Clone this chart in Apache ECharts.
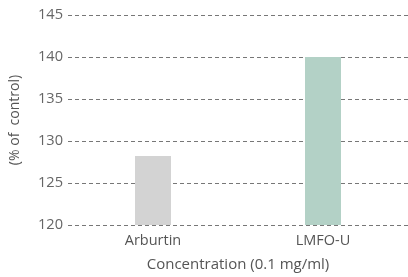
<!DOCTYPE html>
<html>
<head>
<meta charset="utf-8">
<script src="https://cdn.jsdelivr.net/npm/echarts@6/dist/echarts.min.js"></script>
<style>
  html, body { margin: 0; padding: 0; background: #fff; }
  #chart { width: 408px; height: 277px; }
</style>
</head>
<body>
<div id="chart"></div>
<script>
const categories = ['Arburtin', 'LMFO-U']
const values = [128.2, 140]
const barColors = ['#d3d3d3', '#b3d1c6']

const font = '"Open Sans", sans-serif'

echarts.init(document.getElementById('chart')).setOption({
  animation: false,
  grid: { left: 65, right: -4, top: 15, bottom: 50 },
  xAxis: {
    type: 'category',
    data: categories,
    name: 'Concentration (0.1 mg/ml)',
    nameLocation: 'middle',
    nameGap: 32,
    nameTextStyle: { color: '#555', fontSize: 15, fontFamily: font },
    axisLine: { show: false },
    axisTick: { show: false },
    axisLabel: { color: '#555', fontSize: 14.5, fontFamily: font, margin: 8 },
  },
  yAxis: {
    type: 'value',
    min: 120,
    max: 145,
    interval: 5,
    name: '(% of  control)',
    nameLocation: 'middle',
    nameGap: 46,
    nameTextStyle: { color: '#555', fontSize: 14, fontFamily: font },
    axisLine: { show: false },
    axisTick: { show: false },
    axisLabel: { color: '#666', fontSize: 14.6, fontFamily: font, margin: 5 },
    splitLine: { lineStyle: { color: '#777', type: [4, 3], width: 1 } },
  },
  series: [
    {
      type: 'bar',
      barWidth: 36,
      data: values.map((v, i) => ({ value: v, itemStyle: { color: barColors[i] } })),
    },
  ],
})
</script>
</body>
</html>
